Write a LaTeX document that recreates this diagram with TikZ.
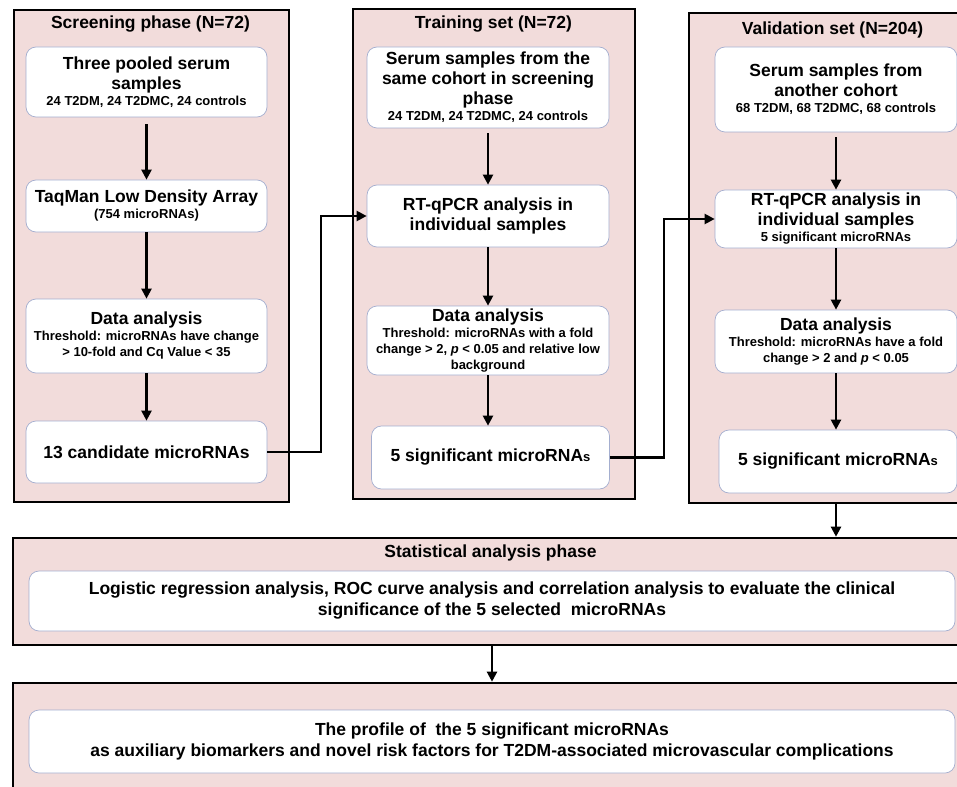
\documentclass[tikz,border=0pt]{standalone}
\usepackage{fontspec}
\setmainfont{Liberation Sans}
\usetikzlibrary{arrows.meta}
\definecolor{pinkbg}{HTML}{F2DCDB}
\definecolor{boxline}{HTML}{A4AECF}
\newcommand\bigt{\fontsize{17.5}{20}\selectfont\bfseries}
\newcommand\subt{\fontsize{13}{16}\selectfont\bfseries}
\newcommand\botr{\fontsize{17.5}{21}\selectfont\bfseries}
\tikzset{
  outbox/.style={draw=black, line width=2.6pt, fill=pinkbg, inner sep=0pt},
  inbox/.style={draw=boxline, line width=0.7pt, fill=white, rounded corners=10pt,
    align=flush center, inner sep=0pt, text width=238pt, font=\bigt},
  widebox/.style={inbox, text width=910pt, font=\botr},
  titlet/.style={font=\bigt, inner sep=0pt},
  arr/.style={line width=2.2pt, -{Triangle[length=10pt,width=10pt]}}
}
\begin{document}
\begin{tikzpicture}[x=1pt,y=-1pt]
\useasboundingbox (0,0) rectangle (957,786);
\clip (0,0) rectangle (957,786);
\fill[white] (0,0) rectangle (957,786);
% outer containers
\node[outbox, minimum width=275, minimum height=492] (Sout) at (151.5,256) {};
\node[outbox, minimum width=282, minimum height=490] (Tout) at (494,254) {};
\node[outbox, minimum width=286, minimum height=490] (Vout) at (832,258) {};
\node[outbox, minimum width=962, minimum height=107] (Stout) at (494,591.5) {};
\node[outbox, minimum width=962, minimum height=117] (Fout) at (494,741.5) {};
% titles
\node[titlet] (Sti) at (150.5,24) {Screening phase (N=72)};
\node[titlet] (Tti) at (493.5,24) {Training set (N=72)};
\node[titlet] (Vti) at (832.5,30) {Validation set (N=204)};
\node[titlet] (Stti) at (490.5,553) {Statistical analysis phase};
% screening column
\node[inbox, minimum width=241, minimum height=70] (S1) at (146.5,82)
  {Three pooled serum\par samples\par\subt 24 T2DM, 24 T2DMC, 24 controls\par};
\node[inbox, minimum width=241, minimum height=52] (S2) at (146.5,206)
  {TaqMan Low Density Array\par\subt (754 microRNAs)\par};
\node[inbox, minimum width=241, minimum height=74] (S3) at (146.5,336)
  {Data analysis\par\subt Threshold: microRNAs have change\par > 10-fold and Cq Value < 35\par};
\node[inbox, minimum width=241, minimum height=62] (S4) at (146.5,452)
  {13 candidate microRNAs};
% training column
\node[inbox, minimum width=242, minimum height=81] (T1) at (488,87.5)
  {Serum samples from the\par same cohort in screening\par phase\par\subt 24 T2DM, 24 T2DMC, 24 controls\par};
\node[inbox, minimum width=242, minimum height=62] (T2) at (488,216)
  {RT-qPCR analysis in\par individual samples};
\node[inbox, minimum width=242, minimum height=69] (T3) at (488,340.5)
  {Data analysis\par\subt Threshold: microRNAs with a fold\par change > 2, \textit{p} < 0.05 and relative low\par background\par};
\node[inbox, minimum width=237, minimum height=63] (T4) at (490.5,457.5)
  {5 significant microRNA{\subt s}};
% validation column
\node[inbox, minimum width=242, minimum height=85] (V1) at (836,89.5)
  {Serum samples from\par another cohort\par\subt 68 T2DM, 68 T2DMC, 68 controls\par};
\node[inbox, minimum width=242, minimum height=58] (V2) at (836,219)
  {RT-qPCR analysis in\par individual samples\par\subt 5 significant microRNAs\par};
\node[inbox, minimum width=242, minimum height=63] (V3) at (836,341.5)
  {Data analysis\par\subt Threshold: microRNAs have a fold\par change > 2 and \textit{p} < 0.05\par};
\node[inbox, minimum width=238, minimum height=63] (V4) at (838,461.5)
  {5 significant microRNA{\subt s}};
% bottom rows
\node[widebox, minimum width=926, minimum height=60] (StIn) at (492,601)
  {Logistic regression analysis, ROC curve analysis and correlation analysis to evaluate the clinical\par significance of the 5 selected \ microRNAs};
\node[widebox, minimum width=926, minimum height=63] (FIn) at (492,741.5)
  {The profile of \ the 5 significant microRNAs\par as auxiliary biomarkers and novel risk factors for T2DM-associated microvascular complications};
% connectors
\draw[arr, shorten <=7pt] (S1) -- (S2);
\draw[arr] (S2) -- (S3);
\draw[arr] (S3) -- (S4);
\draw[arr, shorten <=5pt] (T1) -- (T2);
\draw[arr] (T2) -- (T3);
\draw[arr] (T3.south) -- (T3.south |- T4.north);
\draw[arr, shorten <=5pt] (V1) -- (V2);
\draw[arr] (V2) -- (V3);
\draw[arr] (V3.south) -- (V3.south |- V4.north);
\draw[arr] (S4.east) -- ++(54,0) |- (T2.west);
\draw[arr] (T4.east) -- ++(54,0) |- (V2.west);
\draw[arr] (Vout.south -| V3.south) -- (Stout.north -| V3.south);
\draw[arr] (Stout.south -| StIn.south) -- (Fout.north -| StIn.south);
\end{tikzpicture}
\end{document}
